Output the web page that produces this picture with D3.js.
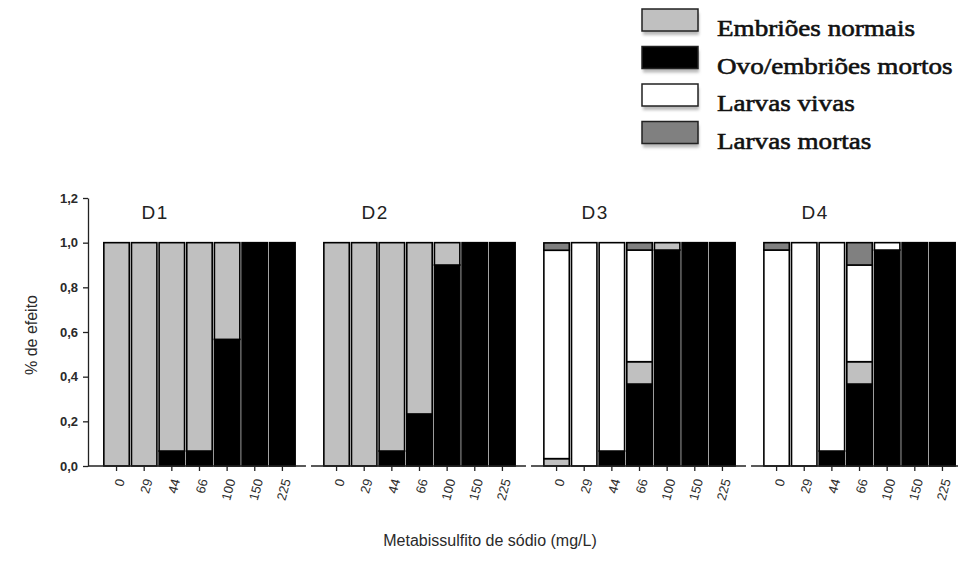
<!DOCTYPE html>
<html>
<head>
<meta charset="utf-8">
<script src="https://cdn.jsdelivr.net/npm/d3@7/dist/d3.min.js"></script>
<style>
  html, body { margin: 0; padding: 0; background: #fff; }
  svg { display: block; }
</style>
</head>
<body>
<svg id="chart" width="958" height="561"></svg>
<script>
// Test groups and concentrations (mg/L)
const groups = ["D1", "D2", "D3", "D4"];
const concentrations = ["0", "29", "44", "66", "100", "150", "225"];
const yTicks = [0, 0.2, 0.4, 0.6, 0.8, 1.0, 1.2];

// Series in stacking order (bottom to top)
const seriesNames = ["Ovo/embriões mortos", "Embriões normais", "Larvas vivas", "Larvas mortas"];
const legendOrder = ["Embriões normais", "Ovo/embriões mortos", "Larvas vivas", "Larvas mortas"];
const seriesColors = ["#000000", "#c0c0c0", "#ffffff", "#808080"];

// Fraction per concentration, one array per group and series
const ovoMortos = {
  D1: [0, 0, 0.067, 0.067, 0.567, 1, 1],
  D2: [0, 0, 0.067, 0.233, 0.9, 1, 1],
  D3: [0, 0, 0.067, 0.367, 0.967, 1, 1],
  D4: [0, 0, 0.067, 0.367, 0.967, 1, 1]
};
const embrioesNormais = {
  D1: [1, 1, 0.933, 0.933, 0.433, 0, 0],
  D2: [1, 1, 0.933, 0.767, 0.1, 0, 0],
  D3: [0.033, 0, 0, 0.1, 0.033, 0, 0],
  D4: [0, 0, 0, 0.1, 0, 0, 0]
};
const larvasVivas = {
  D1: [0, 0, 0, 0, 0, 0, 0],
  D2: [0, 0, 0, 0, 0, 0, 0],
  D3: [0.933, 1, 0.933, 0.5, 0, 0, 0],
  D4: [0.967, 1, 0.933, 0.433, 0.033, 0, 0]
};
const larvasMortas = {
  D1: [0, 0, 0, 0, 0, 0, 0],
  D2: [0, 0, 0, 0, 0, 0, 0],
  D3: [0.033, 0, 0, 0.033, 0, 0, 0],
  D4: [0.033, 0, 0, 0.1, 0, 0, 0]
};
const seriesData = [ovoMortos, embrioesNormais, larvasVivas, larvasMortas];

const svg = d3.select("#chart");
const sans = "'Liberation Sans', Arial, sans-serif";
const serif = "'Liberation Serif', 'Times New Roman', serif";

const y = d3.scaleLinear().domain([0, 1.2]).range([466, 198]);
const gx = d3.scaleBand().domain(groups).range([103, 956]).paddingInner(0.123).paddingOuter(0);
const bx = d3.scaleBand().domain(concentrations).range([0, gx.bandwidth()]).paddingInner(0.08).paddingOuter(0.03);
const color = d3.scaleOrdinal().domain(seriesNames).range(seriesColors);

// Y axis
const yAxis = d3.axisLeft(y).tickValues(yTicks).tickSize(5).tickSizeOuter(0)
  .tickFormat(d => d3.format(".1f")(d).replace(".", ","));
const yg = svg.append("g").attr("transform", "translate(88,0)").call(yAxis);
yg.select(".domain").attr("stroke", "#222").attr("stroke-width", 1.3);
yg.selectAll(".tick line").attr("stroke", "#222").attr("stroke-width", 1.3);
yg.selectAll(".tick text").attr("font-family", sans).attr("font-size", 13)
  .attr("font-weight", "bold").attr("fill", "#2a2a2a").attr("x", -10);

svg.append("text")
  .attr("transform", "translate(37,335) rotate(-90)")
  .attr("text-anchor", "middle")
  .attr("font-family", sans).attr("font-size", 16).attr("fill", "#2a2a2a")
  .text("% de efeito");

// Groups
groups.forEach((g, gi) => {
  const gStart = gx(g);
  const panel = svg.append("g").attr("transform", `translate(${gStart},0)`);

  // stack the four series for this group
  const rows = concentrations.map((c, i) => {
    const r = { conc: c };
    seriesNames.forEach((s, si) => { r[s] = seriesData[si][g][i]; });
    return r;
  });
  const stacked = d3.stack().keys(seriesNames)(rows);

  stacked.forEach(layer => {
    panel.selectAll(null)
      .data(layer.filter(d => d[1] - d[0] > 0))
      .join("rect")
      .attr("x", d => bx(d.data.conc))
      .attr("width", bx.bandwidth())
      .attr("y", d => y(d[1]))
      .attr("height", d => y(d[0]) - y(d[1]))
      .attr("fill", color(layer.key))
      .attr("stroke", "#000")
      .attr("stroke-width", 1.6);
  });

  // x axis segment for this group
  const xAxis = d3.axisBottom(bx).tickSize(5).tickSizeOuter(0);
  const ax = panel.append("g").attr("transform", `translate(0,${y(0)})`).call(xAxis);
  ax.select(".domain").remove();
  ax.selectAll(".tick line").attr("stroke", "#222").attr("stroke-width", 1.3);
  ax.selectAll(".tick text")
    .attr("font-family", sans).attr("font-size", 13).attr("fill", "#2a2a2a")
    .attr("text-anchor", "end")
    .attr("y", 0).attr("dy", "0.35em")
    .attr("transform", "translate(4,13) rotate(-75)");

  const segStart = gi === 0 ? 88 - gStart : -12;
  panel.append("line")
    .attr("x1", segStart).attr("x2", gx.bandwidth() + 10)
    .attr("y1", y(0)).attr("y2", y(0))
    .attr("stroke", "#222").attr("stroke-width", 1.3);

  // group title
  panel.append("text")
    .attr("x", bx("44") - 4).attr("y", 219)
    .attr("text-anchor", "middle")
    .attr("font-family", sans).attr("font-size", 19).attr("fill", "#222")
    .attr("letter-spacing", 1.5)
    .text(g);
});

// X axis title
svg.append("text")
  .attr("x", 490).attr("y", 546)
  .attr("text-anchor", "middle")
  .attr("font-family", sans).attr("font-size", 16).attr("fill", "#2a2a2a")
  .text("Metabissulfito de sódio (mg/L)");

// Legend
const defs = svg.append("defs");
defs.append("filter").attr("id", "soft").attr("x", "-20%").attr("y", "-20%")
  .attr("width", "140%").attr("height", "160%")
  .append("feGaussianBlur").attr("stdDeviation", 1.5);

const legend = svg.append("g").attr("transform", "translate(642,0)");
legendOrder.forEach((name, i) => {
  const top = 9 + i * 37.5;
  legend.append("rect")
    .attr("x", 1).attr("y", top + 4).attr("width", 56).attr("height", 22)
    .attr("fill", "#b8b8b8").attr("filter", "url(#soft)");
  legend.append("rect")
    .attr("x", 0).attr("y", top).attr("width", 56).attr("height", 22)
    .attr("fill", color(name)).attr("stroke", "#222").attr("stroke-width", 1.5);
  legend.append("text")
    .attr("transform", `translate(75,${top + 27}) scale(1.13,1)`)
    .attr("font-family", serif).attr("font-size", 24).attr("fill", "#111")
    .attr("stroke", "#111").attr("stroke-width", 0.6)
    .text(name);
});
</script>
</body>
</html>
